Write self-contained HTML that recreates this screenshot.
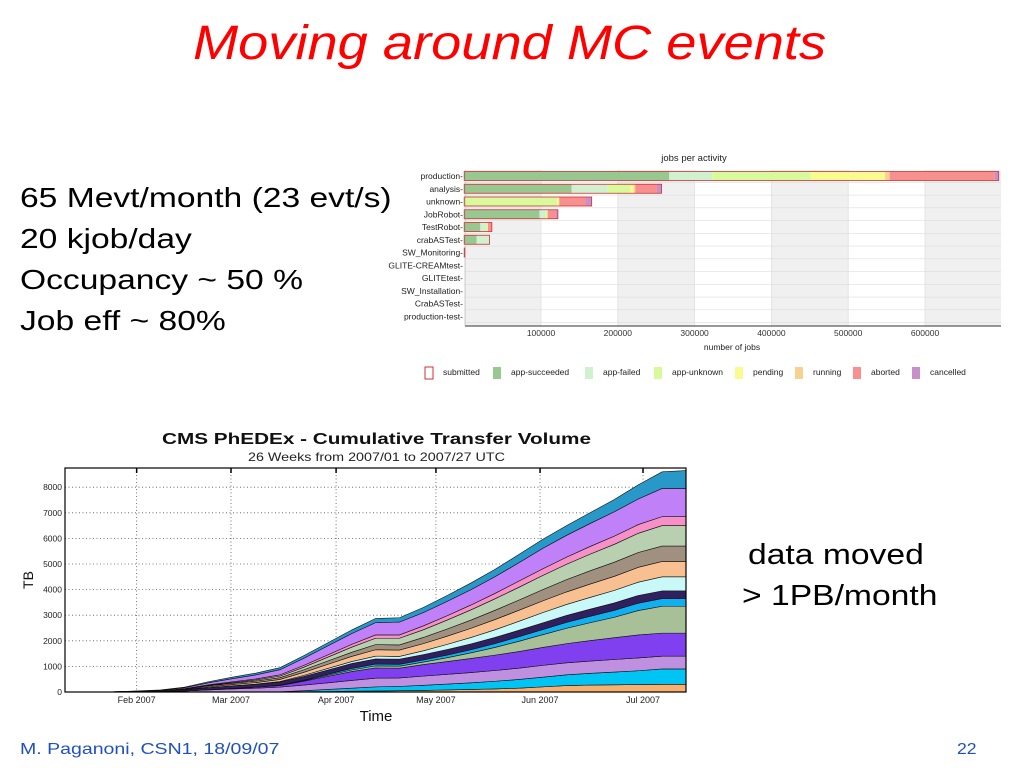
<!DOCTYPE html>
<html><head><meta charset="utf-8">
<style>
body{margin:0;width:1024px;height:768px;background:#fff;position:relative;overflow:hidden;font-family:"Liberation Sans",sans-serif}
.t{position:absolute;white-space:nowrap;transform-origin:0 0}
svg{position:absolute;left:0;top:0}
</style></head><body>
<div class="t" style="left:193px;top:16px;font-size:48px;font-style:italic;color:#f00;transform:scaleX(1.13)">Moving around MC events</div>
<div class="t" style="left:20px;top:182px;font-size:28px;transform:scaleX(1.2)">65 Mevt/month (23 evt/s)</div>
<div class="t" style="left:20px;top:223px;font-size:28px;transform:scaleX(1.2)">20 kjob/day</div>
<div class="t" style="left:20px;top:264px;font-size:28px;transform:scaleX(1.2)">Occupancy ~ 50 %</div>
<div class="t" style="left:20px;top:305px;font-size:28px;transform:scaleX(1.2)">Job eff ~ 80%</div>
<div class="t" style="left:748px;top:539px;font-size:29px;transform:scaleX(1.16)">data moved</div>
<div class="t" style="left:742px;top:580px;font-size:29px;transform:scaleX(1.16)">&gt; 1PB/month</div>
<div class="t" style="left:20px;top:741px;font-size:16px;color:#2050c0;transform:scaleX(1.22)">M. Paganoni, CSN1, 18/09/07</div>
<div class="t" style="left:957px;top:741px;font-size:16px;color:#2050c0;transform:scaleX(1.1)">22</div>
<svg id="top" width="1024" height="768"></svg>
<svg id="bot" width="1024" height="768"></svg>
<script>
// ---- jobs per activity data ----
const activities=["production","analysis","unknown","JobRobot","TestRobot","crabASTest","SW_Monitoring","GLITE-CREAMtest","GLITEtest","SW_Installation","CrabASTest","production-test"];
const statuses=["app-succeeded","app-failed","app-unknown","pending","running","aborted","cancelled"];
const succeeded=[267000,140000,0,98000,21000,16000,0,0,0,0,0,0];
const failed=[56000,47000,0,8000,8000,17000,0,0,0,0,0,0];
const appUnknown=[128000,29000,121000,2000,2000,0,0,0,0,0,0,0];
const pending=[97000,5000,2000,0,0,0,0,0,0,0,0,0];
const running=[6000,2000,1000,1000,0,0,0,0,0,0,0,0];
const aborted=[137000,28000,34000,10000,5000,0,1000,0,0,0,0,0];
const cancelled=[5000,6000,8000,3000,0,0,0,0,0,0,0,0];
const jobTicks=[100000,200000,300000,400000,500000,600000];
// ---- transfer volume data (TB per layer per week, 27 weeks) ----
const weekLabels=["Feb 2007","Mar 2007","Apr 2007","May 2007","Jun 2007","Jul 2007"];
const weekTickPos=[3.0,6.95,11.35,15.53,19.89,24.2];
const tbTicks=[0,1000,2000,3000,4000,5000,6000,7000,8000];
const L1=[0,0,0,0,0,0,0,0,0,0,10,20,30,40,50,60,80,100,120,150,200,250,270,280,290,300,300];
const L2=[0,0,0,0,0,0,0,0,0,10,40,80,120,160,170,200,230,260,300,340,380,420,460,500,540,600,600];
const L3=[0,0,5,10,20,40,80,120,150,180,220,260,300,340,330,360,380,400,420,440,460,470,480,490,500,500,500];
const L4=[0,0,0,0,0,0,10,20,40,60,150,250,350,400,380,450,500,550,600,650,700,750,800,850,900,900,900];
const L5=[0,0,0,0,0,0,0,0,0,10,20,40,60,80,80,100,150,220,300,400,500,600,700,800,950,1050,1050];
const L6=[0,0,0,0,0,0,0,0,0,10,20,40,60,70,70,80,100,120,150,180,200,230,250,270,290,300,300];
const L7=[0,0,5,10,20,40,80,100,110,120,150,170,190,200,200,210,220,230,240,250,260,270,280,290,300,300,300];
const L8=[0,0,0,0,0,0,0,0,10,20,40,60,80,110,110,150,200,250,300,350,400,430,460,490,520,550,550];
const L9=[0,0,0,0,0,10,30,50,60,80,120,160,200,250,250,280,320,360,400,430,460,490,520,550,580,600,600];
const L10=[0,0,0,0,10,20,40,50,60,70,100,130,160,200,200,240,280,320,360,400,440,480,520,550,580,600,600];
const L11=[0,0,0,0,0,10,20,30,40,60,100,150,200,250,260,300,350,400,450,500,550,600,650,700,750,800,800];
const L12=[0,0,0,0,0,10,20,30,40,50,70,90,110,130,130,150,170,190,210,240,260,280,300,320,340,350,350];
const L13=[0,0,0,10,20,40,80,120,160,200,280,350,420,480,500,520,560,600,650,720,800,850,900,950,1000,1100,1100];
const L14=[0,0,0,10,10,20,40,60,70,80,100,120,140,160,170,200,230,260,290,320,350,380,420,480,550,650,700];
const layers=[L1,L2,L3,L4,L5,L6,L7,L8,L9,L10,L11,L12,L13,L14];

const NS="http://www.w3.org/2000/svg";
function mk(p,tag,at,txt){const e=document.createElementNS(NS,tag);for(const k in at)e.setAttribute(k,at[k]);if(txt!==undefined)e.textContent=txt;p.appendChild(e);return e;}

// ===== top chart =====
(function(){
const s=document.getElementById('top');
const X0=464.2,PX=76.8/100000,Y0=176,DY=12.75,L=465,R=1001,T=170,B=326;
const xs=v=>X0+v*PX, ys=i=>Y0+i*DY;
for(let k=0;k<7;k++){ if(k%2==0){const a=Math.max(L,xs(k*100000)),b=Math.min(R,xs((k+1)*100000)); const r=mk(s,'rect',{x:a,y:T,width:b-a,height:B-T,fill:'#f0f0f0'});  }}
jobTicks.forEach(v=>{mk(s,'line',{x1:xs(v),x2:xs(v),y1:T,y2:B,stroke:'#ddd','stroke-width':0.7});
 const t=mk(s,'text',{x:xs(v),y:336,'font-size':8.5,'text-anchor':'middle',fill:'#333'},v);
  });
const series=[succeeded,failed,appUnknown,pending,running,aborted,cancelled];
const cols=['#98c890','#d0f0d0','#d8fa9c','#fafa90','#f8d090','#f89090','#c890c8'];
activities.forEach((a,i)=>{
 const y=ys(i);
 mk(s,'line',{x1:L,x2:R,y1:y+6.3,y2:y+6.3,stroke:'#ddd','stroke-width':0.7});
 const t=mk(s,'text',{x:463,y:y+3,'font-size':8.5,'text-anchor':'end',fill:'#222'},a+'-');
  
 let acc=0;
 series.forEach((sr,k)=>{const v=sr[i]; if(v>0){const r=mk(s,'rect',{x:xs(acc),y:y-4.5,width:v*PX,height:9,fill:cols[k]});
   } acc+=v;});
 if(acc>0){const o=mk(s,'rect',{x:xs(0),y:y-4.5,width:acc*PX,height:9,fill:'none',stroke:'#d03030','stroke-width':0.8});
   }
});
mk(s,'line',{x1:L,x2:R,y1:B,y2:B,stroke:'#333','stroke-width':1});
mk(s,'line',{x1:L,x2:L,y1:T,y2:B,stroke:'#999','stroke-width':0.5});
let t=mk(s,'text',{x:694,y:161,'font-size':9.5,'text-anchor':'middle',fill:'#222'},'jobs per activity');
 
t=mk(s,'text',{x:732,y:350,'font-size':8.5,'text-anchor':'middle',fill:'#222'},'number of jobs');
 
const lg=[['submitted',425,'none'],['app-succeeded',493,cols[0]],['app-failed',585,cols[1]],['app-unknown',654,cols[2]],['pending',735,cols[3]],['running',795,cols[4]],['aborted',853,cols[5]],['cancelled',912,cols[6]]];
lg.forEach(([n,x,c])=>{const g=mk(s,'g',{});
  
 mk(g,'rect',{x:x,y:367,width:8,height:12,fill:c,stroke:c=='none'?'#d03030':'none'});
 mk(g,'text',{x:x+18,y:375,'font-size':8.5,fill:'#222'},n);});
})();

// ===== bottom chart =====
(function(){
const s=document.getElementById('bot');
const L=65,R=686,T=468,B=692;
const xs=w=>L+w*(R-L)/26, ys=v=>B-v*0.0256;
mk(s,'rect',{x:L,y:T,width:R-L,height:B-T,fill:'#fff'});
tbTicks.forEach(v=>{if(v>0)mk(s,'line',{x1:L,x2:R,y1:ys(v),y2:ys(v),stroke:'#555','stroke-width':0.8,'stroke-dasharray':'1,2.5'});
 const t=mk(s,'text',{x:62,y:ys(v)+3,'font-size':8.5,'text-anchor':'end',fill:'#222'},v);
  });
weekTickPos.forEach((w,i)=>{mk(s,'line',{x1:xs(w),x2:xs(w),y1:T,y2:B,stroke:'#555','stroke-width':0.8,'stroke-dasharray':'1,2.5'});
 mk(s,'line',{x1:xs(w),x2:xs(w),y1:T,y2:T+5,stroke:'#000','stroke-width':1.5});
 const t=mk(s,'text',{x:xs(w),y:703,'font-size':9,'text-anchor':'middle',fill:'#222'},weekLabels[i]);
  });
const cols=['#f8b070','#00c4f4','#c090e0','#8040f0','#a8c098','#10b0f0','#302060','#c8f8f8','#f8c090','#a09080','#b8d0b0','#f890c8','#c080f8','#2898c8'];
const base=new Array(27).fill(0);
layers.forEach((ly,k)=>{
 const top=base.map((b,i)=>b+ly[i]);
 let d='M'+top.map((v,i)=>xs(i)+','+ys(v)).join(' L');
 for(let i=26;i>=0;i--)d+=' L'+xs(i)+','+ys(base[i]);
 const p=mk(s,'path',{d:d+'Z',fill:cols[k],stroke:'#111','stroke-width':0.6});
  
 for(let i=0;i<27;i++)base[i]=top[i];
});
mk(s,'rect',{x:L,y:T,width:R-L,height:B-T,fill:'none',stroke:'#000','stroke-width':1.2});
let t=mk(s,'text',{x:162,y:444,'font-size':16,'font-weight':'bold',fill:'#111',textLength:429,lengthAdjust:'spacingAndGlyphs'},'CMS PhEDEx - Cumulative Transfer Volume');
 
t=mk(s,'text',{x:248,y:461,'font-size':12,fill:'#222',textLength:257,lengthAdjust:'spacingAndGlyphs'},'26 Weeks from 2007/01 to  2007/27 UTC');
 
t=mk(s,'text',{x:376,y:721,'font-size':15,'text-anchor':'middle',fill:'#111'},'Time');
 
t=mk(s,'text',{x:33,y:580,'font-size':14,'text-anchor':'middle',fill:'#111',transform:'rotate(-90 33 580)'},'TB');
 
})();
</script>
</body></html>
